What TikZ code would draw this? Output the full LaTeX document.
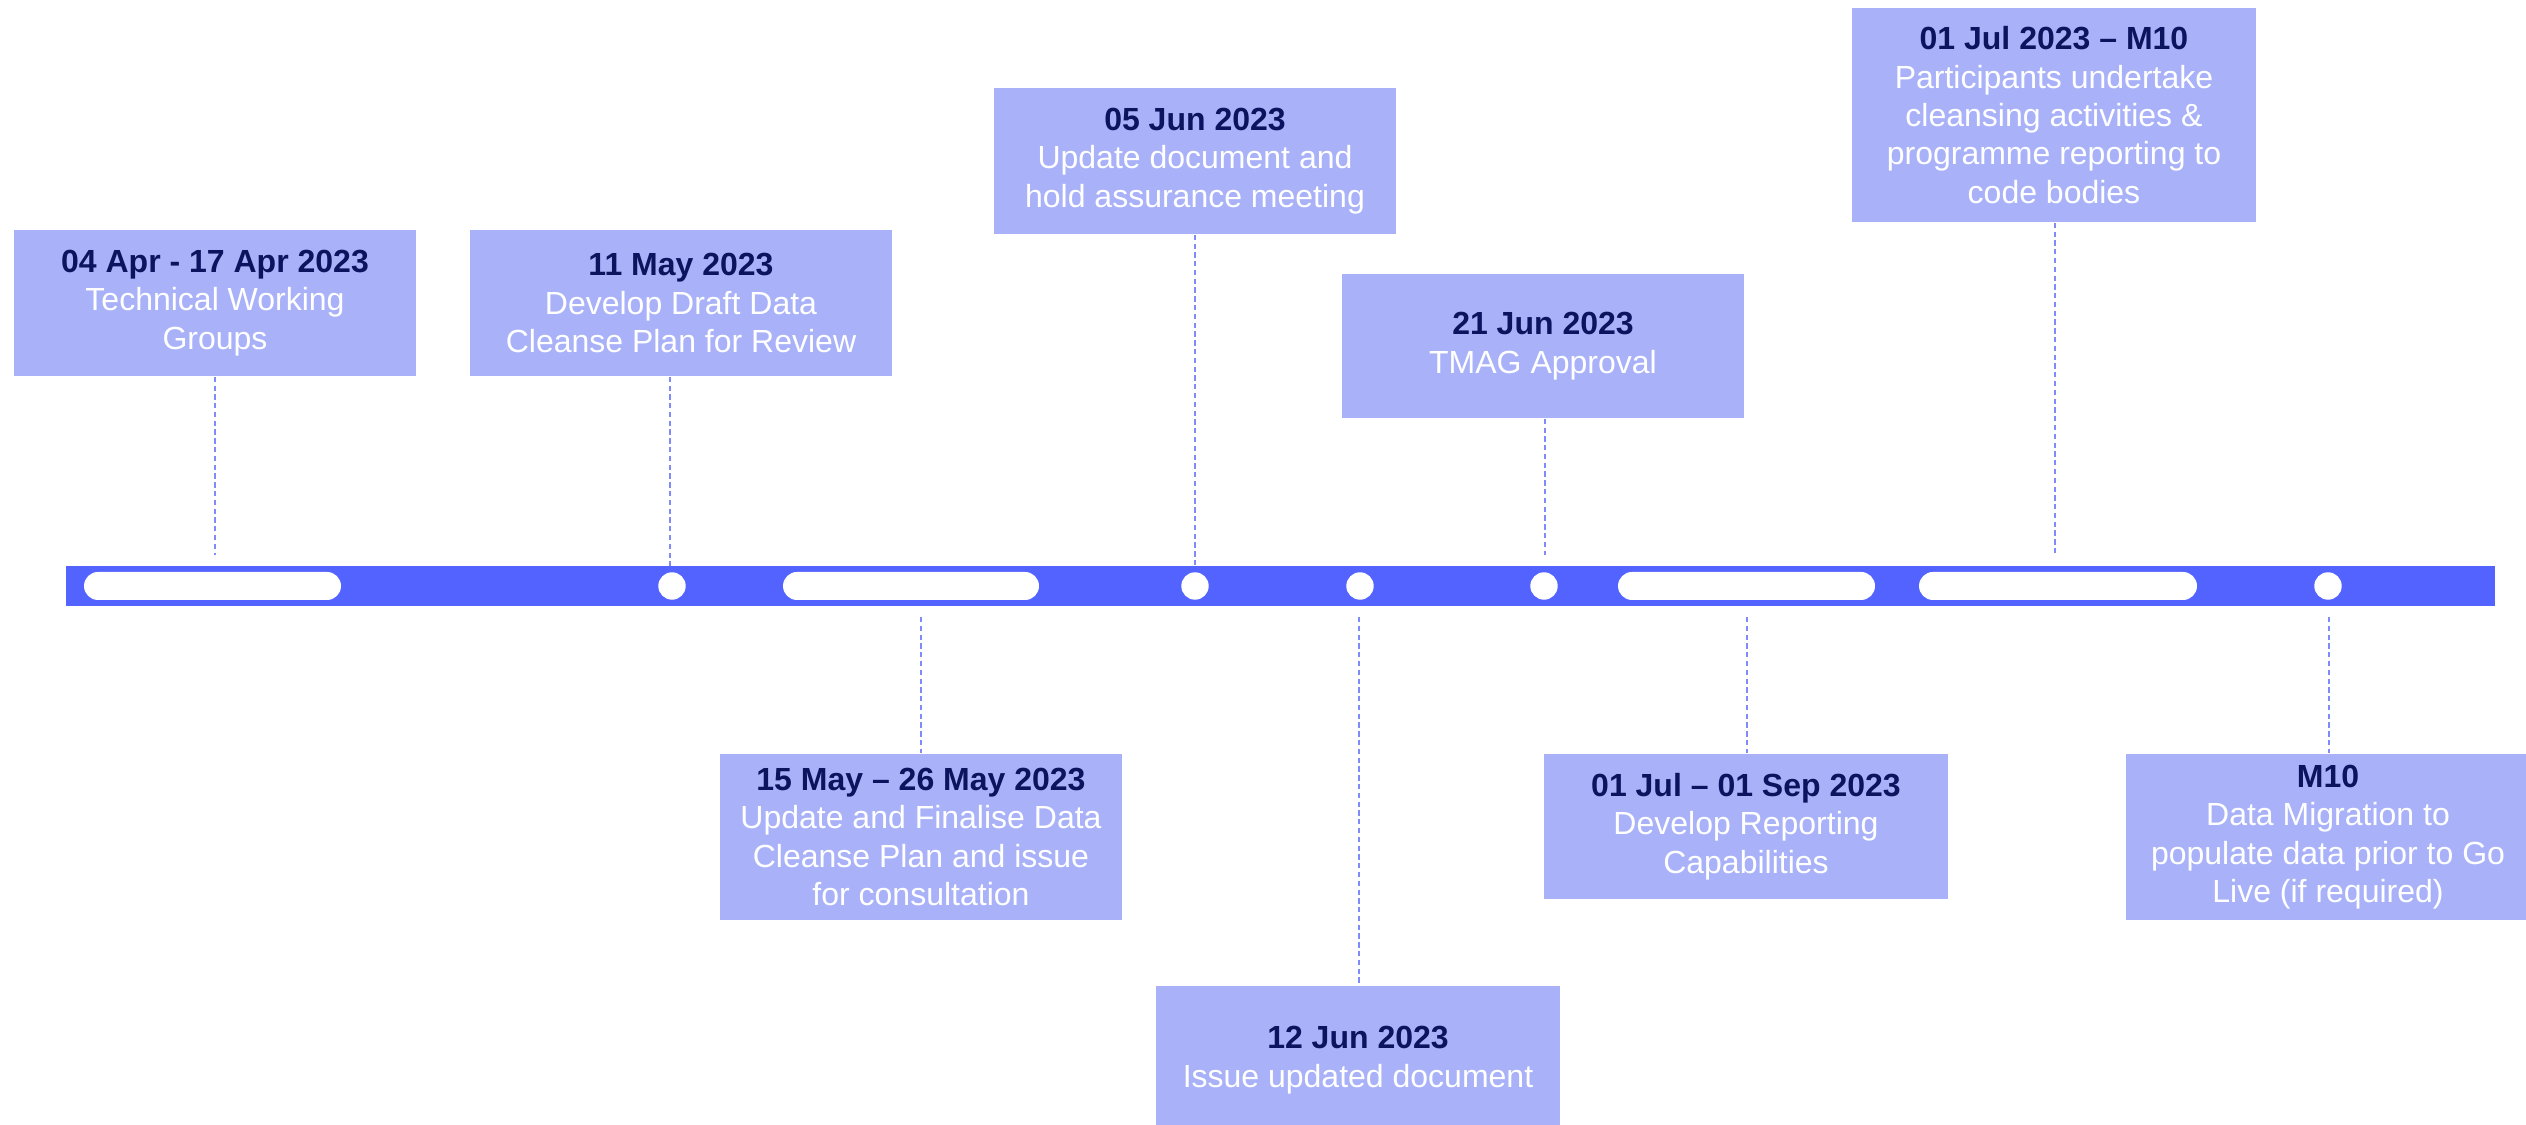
\documentclass[tikz,border=0pt]{standalone}
\usepackage{fontspec}
\setmainfont{Liberation Sans}
\definecolor{boxfill}{HTML}{A9B2F8}
\definecolor{barblue}{HTML}{5363FF}
\definecolor{navy}{HTML}{0C145F}
\definecolor{guideblue}{HTML}{7F8CF7}
\tikzset{
  evbox/.style={fill=boxfill, align=center, inner sep=0pt, text=white,
    font=\fontsize{9.1pt}{10.9pt}\selectfont},
  guide/.style={draw=guideblue, line width=0.45pt, dash pattern=on 1.5pt off 1pt},
  pill/.style={fill=white, rounded corners=0.14cm},
  dot/.style={fill=white},
}
\newcommand{\ttl}[1]{\textcolor{navy}{\textbf{#1}}}
\begin{document}
\begin{tikzpicture}[x=0.01cm,y=-0.01cm]
\clip (0,0) rectangle (2526,1125);
\fill[white] (0,0) rectangle (2526,1125);

% timeline bar
\fill[barblue] (66,566) rectangle (2495,606);
\fill[pill] (84,572) rectangle (341,600);
\fill[pill] (783,572) rectangle (1039,600);
\fill[pill] (1618,572) rectangle (1875,600);
\fill[pill] (1919,572) rectangle (2197,600);
\foreach \xx in {672,1195,1360,1544,2328} \fill[dot] (\xx,586) circle (0.137cm);

% boxes above
\node[evbox, minimum width=4.02cm, minimum height=1.46cm] (b1) at (215,303)
  {\ttl{04 Apr - 17 Apr 2023}\\Technical Working\\Groups};
\node[evbox, minimum width=4.22cm, minimum height=1.46cm] (b2) at (681,303)
  {\ttl{11 May 2023}\\Develop Draft Data\\Cleanse Plan for Review};
\node[evbox, minimum width=4.02cm, minimum height=1.46cm] (b3) at (1195,161)
  {\ttl{05 Jun 2023}\\Update document and\\hold assurance meeting};
\node[evbox, minimum width=4.02cm, minimum height=1.44cm] (b4) at (1543,346)
  {\ttl{21 Jun 2023}\\TMAG Approval};
\node[evbox, minimum width=4.04cm, minimum height=2.14cm] (b5) at (2054,115)
  {\ttl{01 Jul 2023 – M10}\\Participants undertake\\cleansing activities \&\\programme reporting to\\code bodies};

% boxes below
\node[evbox, minimum width=4.02cm, minimum height=1.66cm] (b6) at (921,837)
  {\ttl{15 May – 26 May 2023}\\Update and Finalise Data\\Cleanse Plan and issue\\for consultation};
\node[evbox, minimum width=4.04cm, minimum height=1.48cm] (b7) at (1358,1060)
  {\ttl{12 Jun 2023}\\Issue updated document};
\node[evbox, minimum width=4.04cm, minimum height=1.45cm] (b8) at (1746,826.5)
  {\ttl{01 Jul – 01 Sep 2023}\\Develop Reporting\\Capabilities};
\node[evbox, minimum width=4.04cm, minimum height=1.66cm] (b9) at (2328,837)
  {\ttl{M10}\\Data Migration to\\populate data prior to Go\\Live (if required)};

% guide end points at the bar
\coordinate (t1) at (215,555);
\coordinate (t2) at (670,566);
\coordinate (t3) at (1195,566);
\coordinate (t4) at (1545,555);
\coordinate (t5) at (2055,555);
\coordinate (t6) at (921,617);
\coordinate (t7) at (1359,617);
\coordinate (t8) at (1747,617);
\coordinate (t9) at (2329,617);

\draw[guide] (b1.south) -- (t1);
\draw[guide] (t2 |- b2.south) -- (t2);
\draw[guide] (b3.south) -- (t3);
\draw[guide] (t4 |- b4.south) -- (t4);
\draw[guide] (t5 |- b5.south) -- (t5);
\draw[guide] (t6) -- (t6 |- b6.north);
\draw[guide] (t7) -- (t7 |- b7.north);
\draw[guide] (t8) -- (t8 |- b8.north);
\draw[guide] (t9) -- (t9 |- b9.north);
\end{tikzpicture}
\end{document}
